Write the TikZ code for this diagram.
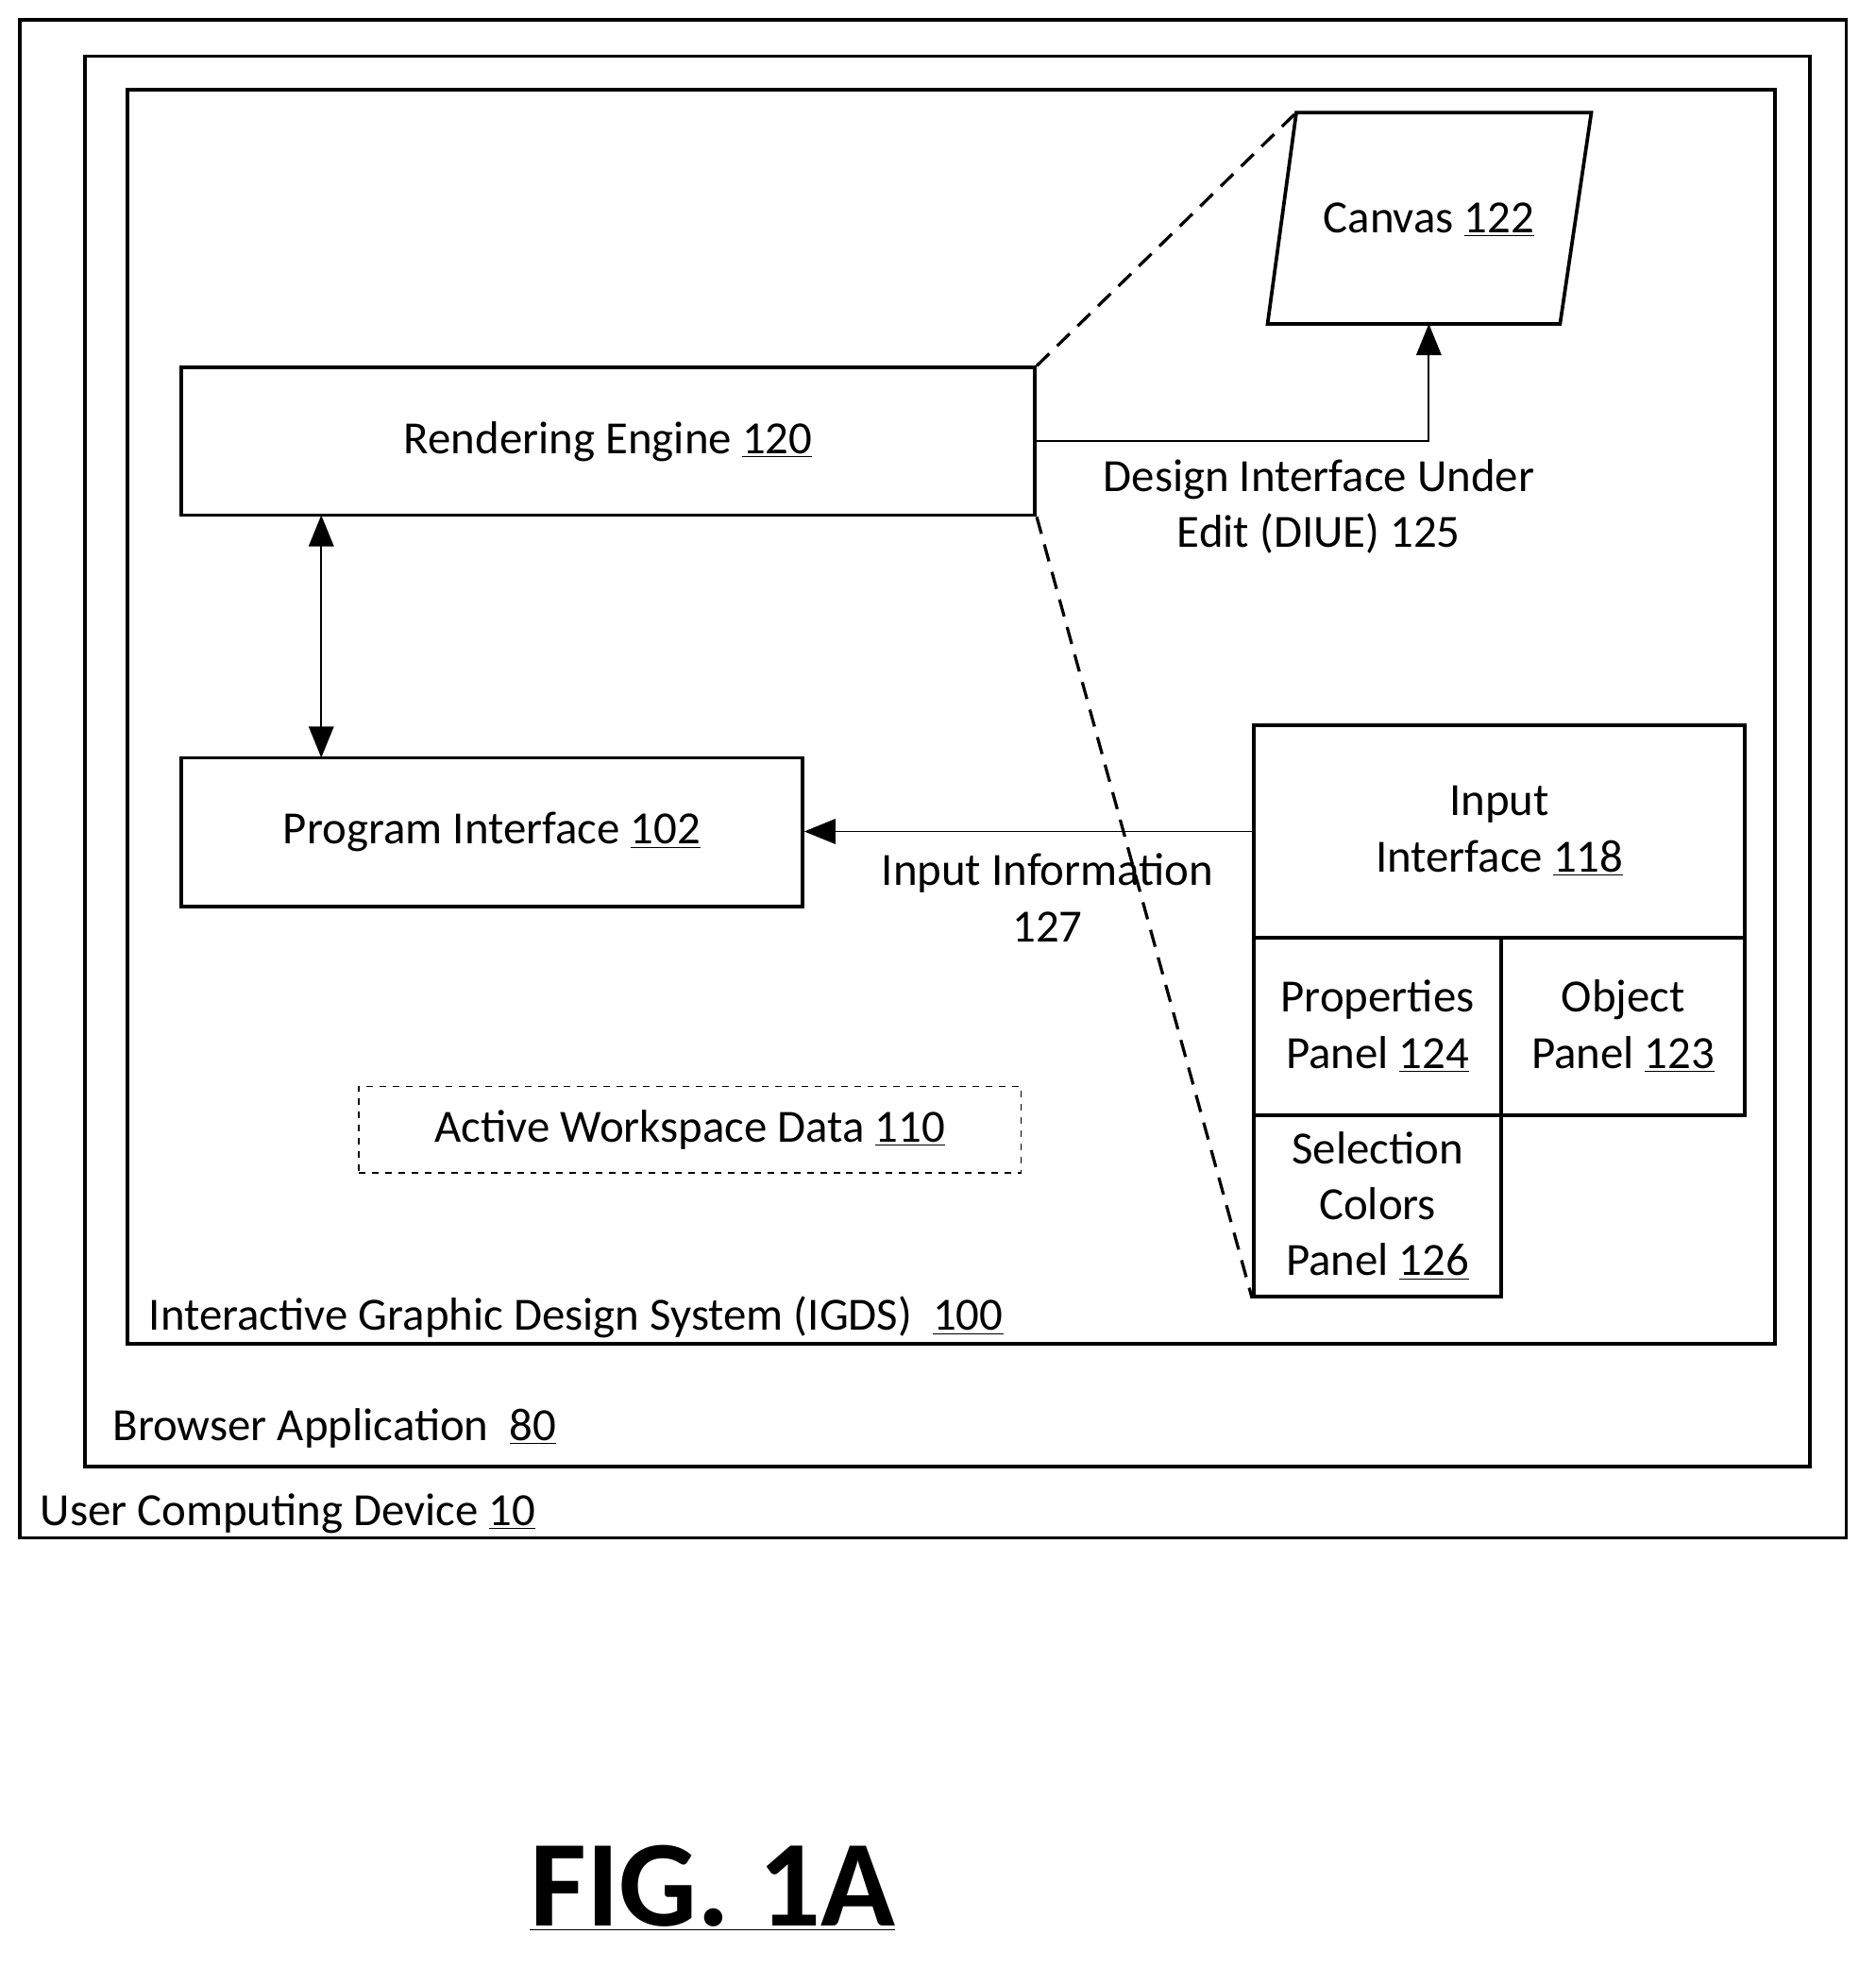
\documentclass[tikz,border=0pt]{standalone}
\usepackage{fontspec}
\setmainfont{Carlito}
\usetikzlibrary{positioning,arrows.meta,calc}
\tikzset{
    blk/.style={
        rectangle,
        draw=black,
        line width=1.6pt,
        align=center,
        inner sep=0pt,
    },
    frame/.style={
        draw=black,
        line width=1.6pt,
    },
    connector/.style={
        -{Triangle[length=5mm,width=4mm]},
        line width=0.8pt,
    },
    zoomline/.style={
        dashed,
        line width=1.4pt,
        dash pattern=on 8pt off 5pt,
    },
}
\newcommand{\ul}[1]{\underline{#1}}
\begin{document}
\begin{tikzpicture}[x=0.02cm,y=-0.02cm,font=\fontsize{21}{25.5}\selectfont]
    \useasboundingbox (0,0) rectangle (1500,1574);
    % nested frames
    \draw[frame] (16,16) rectangle (1477,1230);
    \draw[frame] (68,45) rectangle (1448,1173);
    \draw[frame] (102,72) rectangle (1420,1075);
    \node[anchor=base west](udev) at (26,1220) {User Computing Device \ul{10}};
    \node[anchor=base west](brow) at (84,1152) {Browser Application\ \ \ul{80}};
    \node[anchor=base west](igds) at (113,1064) {Interactive Graphic Design System (IGDS)\ \ \ul{100}};
    % blocks
    \node[blk,minimum width=13.66cm,minimum height=2.36cm](re) at (486.5,353) {Rendering Engine \ul{120}};
    \node[blk,minimum width=9.94cm,minimum height=2.38cm](pi) at (393.5,665.5) {Program Interface \ul{102}};
    \node[draw,dashed,line width=0.5pt,minimum width=10.6cm,minimum height=1.38cm,inner sep=0pt](aw) at (552,903.5) {Active Workspace Data \ul{110}};
    % canvas
    \draw[frame] (1037,90) coordinate(c1) -- (1273,90) -- (1248,259) -- (1014,259) coordinate(c4) -- cycle;
    \node(cv) at (1143,176) {Canvas \ul{122}};
    \coordinate(cvb) at (1143,259);
    % input interface
    \node[blk,minimum width=7.86cm,minimum height=3.4cm](ii) at (1199.5,665) {Input\\Interface \ul{118}};
    \node[blk,minimum width=3.96cm,minimum height=2.84cm](pp) at (1102,821) {Properties\\Panel \ul{124}};
    \node[blk,minimum width=3.9cm,minimum height=2.84cm](op) at (1298.5,821) {Object\\Panel \ul{123}};
    \node[blk,minimum width=3.96cm,minimum height=2.9cm](sc) at (1102,964.5) {Selection\\Colors\\Panel \ul{126}};
    % zoom lines
    \draw[zoomline] (re.north east) -- (c1);
    \draw[zoomline] (re.south east) -- (sc.south west);
    % connectors
    \draw[connector] (re.east) -- (cvb |- re.east) -- (cvb);
    \node[align=center](diue) at (1055,405) {Design Interface Under\\Edit (DIUE) 125};
    \draw[connector] (ii.west) -- (pi.east |- ii.west);
    \node[align=center](inf) at (838,718) {Input Information\\127};
    \draw[connector,{Triangle[length=5mm,width=4mm]}-{Triangle[length=5mm,width=4mm]}] (257,412) coordinate(a1) -- (257,606) coordinate(a2);
    % caption
    \node[font=\bfseries\fontsize{56}{60}\selectfont](fig) at (570,1510) {\ul{FIG. 1A}};
\end{tikzpicture}
\end{document}
